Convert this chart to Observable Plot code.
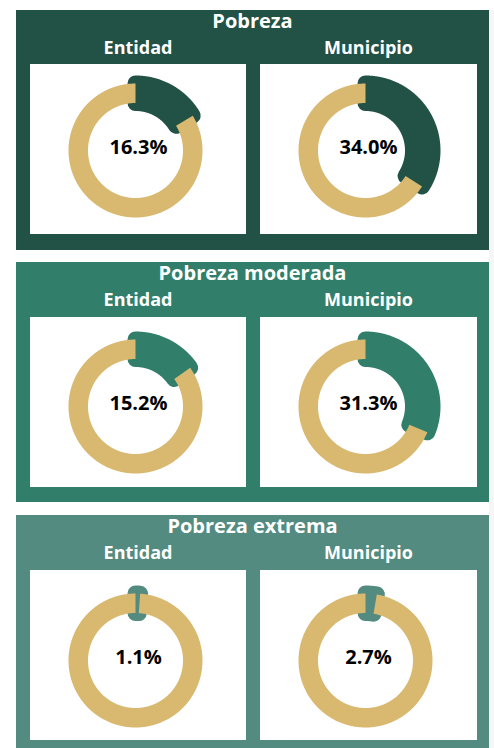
<!DOCTYPE html>
<html>
<head>
<meta charset="utf-8">
<script src="https://cdn.jsdelivr.net/npm/d3@7"></script>
<script src="https://cdn.jsdelivr.net/npm/@observablehq/plot@0.6"></script>
<style>
  html, body { margin: 0; padding: 0; background: #ffffff; }
  body { width: 494px; height: 748px; overflow: hidden; position: relative; font-family: "Open Sans", sans-serif; }
  .strip { position: absolute; left: 489px; top: 10px; width: 5px; height: 738px; background: #f6f6f6; }
  .panel { position: absolute; left: 16px; width: 473px; height: 240px; }
  .title { position: absolute; left: 0; width: 473px; top: -3px; text-align: center; color: #fff; font-weight: 700; font-size: 20px; white-space: nowrap; }
  .sub { position: absolute; top: 25px; text-align: center; color: #fff; font-weight: 700; font-size: 18px; white-space: nowrap; }
  .box { position: absolute; height: 170px; background: #fff; }
  .box svg { display: block; }
</style>
</head>
<body>
<div class="strip"></div>
<script>
// ---- data ----
const panelTitles = ["Pobreza", "Pobreza moderada", "Pobreza extrema"];
const levels = ["Entidad", "Municipio"];
const entidad = [16.3, 15.2, 1.1];
const municipio = [34.0, 31.3, 2.7];
const panelColors = ["#225146", "#317f6b", "#538b80"];
const ringColor = "#d9b870";

// ---- layout ----
const panelTops = [10, 262, 515];
const boxTops = [54, 55, 55];
const centerOffsets = [86, 89, 90];
const boxLefts = [14, 244];
const boxWidths = [216, 217];
const boxH = 170;
const rIn = 47.5, rOut = 67;

function arcPoints(a0, a1) {
  const n = Math.max(2, Math.ceil(Math.abs(a1 - a0) / (Math.PI / 360)));
  const pts = [];
  for (let i = 0; i <= n; i++) {
    const a = a0 + (a1 - a0) * i / n;
    pts.push({x: rOut * Math.sin(a), y: rOut * Math.cos(a)});
  }
  for (let i = n; i >= 0; i--) {
    const a = a0 + (a1 - a0) * i / n;
    pts.push({x: rIn * Math.sin(a), y: rIn * Math.cos(a)});
  }
  pts.push(pts[0]);
  return pts;
}

function donut(value, color, width, cy) {
  const a = value / 100 * 2 * Math.PI;
  const dark = arcPoints(0, a);
  const gold = arcPoints(a, 2 * Math.PI);
  const label = value.toFixed(1) + "%";
  return Plot.plot({
    width: width,
    height: boxH,
    margin: 0,
    style: {background: "#fff", overflow: "visible", fontFamily: "Open Sans"},
    x: {domain: [-105, width - 105], axis: null},
    y: {domain: [-(boxH - cy), cy], axis: null},
    marks: [
      Plot.line(dark, {x: "x", y: "y", fill: color, stroke: color, strokeWidth: 16, strokeLinejoin: "round", strokeLinecap: "round"}),
      Plot.line(gold, {x: "x", y: "y", fill: ringColor, stroke: "none"}),
      Plot.text([label], {x: 3, y: 2.5, text: d => d, fontSize: 20, fontWeight: 700, fill: "#000", fontFamily: "Open Sans"})
    ]
  });
}

panelTitles.forEach((t, p) => {
  const panel = document.createElement("div");
  panel.className = "panel";
  panel.style.top = panelTops[p] + "px";
  panel.style.background = panelColors[p];
  const title = document.createElement("div");
  title.className = "title";
  title.textContent = t;
  panel.appendChild(title);
  const values = [entidad[p], municipio[p]];
  levels.forEach((lv, j) => {
    const sub = document.createElement("div");
    sub.className = "sub";
    sub.style.left = boxLefts[j] + "px";
    sub.style.width = boxWidths[j] + "px";
    sub.textContent = lv;
    panel.appendChild(sub);
    const box = document.createElement("div");
    box.className = "box";
    box.style.left = boxLefts[j] + "px";
    box.style.top = boxTops[p] + "px";
    box.style.width = boxWidths[j] + "px";
    box.appendChild(donut(values[j], panelColors[p], boxWidths[j], centerOffsets[p]));
    panel.appendChild(box);
  });
  document.body.appendChild(panel);
});
</script>
</body>
</html>
